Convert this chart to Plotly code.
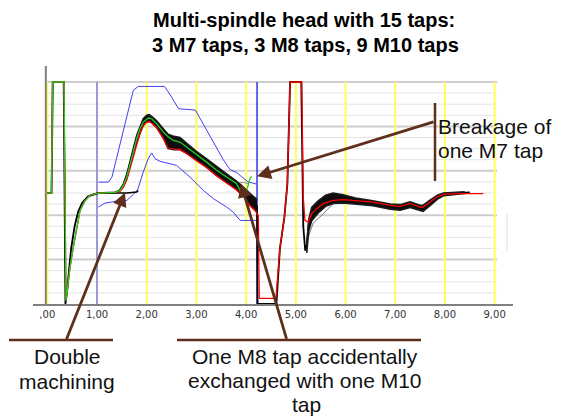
import plotly.graph_objects as go

# ---------------- data ----------------
tick_vals = [0, 1, 2, 3, 4, 5, 6, 7, 8, 9]
tick_text = [",00", "1,00", "2,00", "3,00", "4,00", "5,00", "6,00", "7,00", "8,00", "9,00"]
grid_levels = list(range(1, 21))
major_levels = [4, 8, 12, 16, 20]
yellow_x = [0, 1, 2, 3, 4, 5, 6, 7, 8, 9]
blue_x = [1.0, 4.22]

# green reference signal
green_x = [0.00, 0.085, 0.105, 0.336, 0.376, 0.39, 0.42, 0.457, 0.523, 0.59, 0.658, 0.759, 0.859,
           1.026, 1.195, 1.362, 1.463, 1.529, 1.598, 1.664, 1.730, 1.799, 1.865, 1.932, 2.032, 2.10,
           2.20, 2.334, 2.435, 2.535, 2.67, 2.805, 3.006, 3.207, 3.408, 3.61, 3.81, 3.944, 4.012,
           4.078, 4.113]
green_y = [9.99, 9.99, 20.0, 20.0, 0.3, 0.9, 1.8, 3.3, 5.1, 6.9, 8.4, 9.3, 9.8,
           9.99, 10.03, 10.05, 10.23, 10.68, 11.43, 12.64, 13.68, 14.89, 15.79, 16.39, 16.75, 16.69,
           16.24, 15.49, 15.04, 14.74, 14.59, 14.14, 13.39, 12.78, 12.04, 11.43, 10.84, 9.63, 10.23,
           11.29, 11.5]

# black cycles (middle of the bundle, whole cycle)
black_x = [0.00, 0.085, 0.11, 0.33, 0.365, 0.40, 0.44, 0.48, 0.55, 0.62, 0.70, 0.82, 1.026, 1.195,
           1.362, 1.46, 1.53, 1.60, 1.66, 1.73, 1.80, 1.87, 1.93, 2.00, 2.05, 2.10, 2.20, 2.33, 2.43,
           2.55, 2.67, 2.80, 3.00, 3.20, 3.40, 3.60, 3.80, 3.95, 4.08, 4.18, 4.22, 4.23, 4.61, 4.68,
           4.77, 4.83, 4.885, 5.11, 5.15, 5.19, 5.22, 5.26, 5.32, 5.45, 5.60, 5.75, 5.95, 6.20, 6.55,
           6.90, 7.10, 7.30, 7.50, 7.56, 7.70, 7.85, 7.97, 8.25, 8.50]
black_y = [9.99, 9.99, 20.0, 20.0, 0.0, 1.2, 3.2, 5.0, 7.0, 8.3, 9.1, 9.7, 9.99, 10.03,
           10.05, 10.25, 10.7, 11.5, 12.65, 13.75, 14.9, 15.8, 16.4, 16.7, 16.75, 16.6, 16.2, 15.4, 14.6,
           14.6, 14.55, 14.1, 13.35, 12.75, 12.0, 11.4, 10.75, 10.1, 9.4, 8.9, 8.8, 0.0, 0.0, 5.0,
           7.8, 10.8, 20.0, 20.0, 7.0, 4.8, 5.3, 7.2, 8.2, 8.8, 9.3, 9.55, 9.5, 9.3, 9.1,
           8.8, 8.7, 8.95, 8.65, 8.6, 9.05, 9.6, 9.9, 10.0, 10.05]

# black bundle edges in the descending part
bundle_x = [1.46, 1.53, 1.60, 1.66, 1.73, 1.80, 1.87, 1.93, 2.00, 2.05, 2.10, 2.20, 2.33, 2.43,
            2.55, 2.67, 2.80, 3.00, 3.20, 3.40, 3.60, 3.80, 3.95, 4.08, 4.18, 4.22]
bundle_hi = [10.3, 10.8, 11.7, 12.9, 14.0, 15.2, 16.1, 16.7, 17.0, 17.05, 16.9, 16.5, 15.8, 15.3,
             15.1, 15.0, 14.5, 13.75, 13.1, 12.4, 11.75, 11.1, 10.5, 9.9, 9.5, 9.4]
bundle_lo = [10.2, 10.6, 11.3, 12.4, 13.5, 14.6, 15.5, 16.1, 16.4, 16.45, 16.35, 15.9, 15.0, 14.0,
             13.9, 13.9, 13.6, 12.95, 12.35, 11.6, 11.0, 10.35, 9.7, 8.9, 8.5, 8.4]

# black bundle edges after the second pulse
tail_x = [5.22, 5.26, 5.32, 5.45, 5.60, 5.75, 5.95, 6.20, 6.55, 6.90, 7.10, 7.30, 7.50, 7.56,
          7.70, 7.85, 7.97, 8.25, 8.40]
tail_hi = [5.3, 7.6, 8.7, 9.3, 9.8, 10.0, 9.85, 9.55, 9.3, 9.0, 8.95, 9.2, 8.9, 8.9,
           9.35, 9.8, 10.0, 10.1, 10.1]
tail_lo = [4.6, 6.6, 7.5, 8.2, 8.8, 9.05, 9.1, 9.0, 8.85, 8.55, 8.45, 8.7, 8.4, 8.35,
           8.85, 9.45, 9.75, 9.9, 9.95]

# double machining cycle (stays flat)
double_x = [0.86, 1.026, 1.20, 1.40, 1.60, 1.80, 1.83]
double_y = [9.8, 9.99, 10.0, 9.99, 10.0, 10.08, 10.23]

# grey outlier cycles
grey1_x = [3.55, 3.70, 3.85, 3.95, 4.05]
grey1_y = [11.45, 11.2, 10.9, 10.95, 10.85]
grey2_x = [5.25, 5.35, 5.45, 5.55, 5.65, 5.80]
grey2_y = [6.0, 7.3, 7.7, 8.1, 8.6, 9.2]

# red cycle (M8 tap exchanged)
red_x = [0.00, 0.085, 0.105, 0.336, 0.376, 0.39, 0.42, 0.457, 0.523, 0.59, 0.658, 0.759, 0.859,
         1.026, 1.195, 1.362, 1.463, 1.53, 1.60, 1.67, 1.74, 1.81, 1.87, 1.93, 2.00, 2.05, 2.10,
         2.20, 2.33, 2.43, 2.55, 2.67, 2.80, 3.00, 3.20, 3.40, 3.60, 3.80, 3.95, 4.08, 4.18, 4.245,
         4.265, 4.60, 4.68, 4.77, 4.83, 4.885, 5.119, 5.15, 5.183, 5.25, 5.32, 5.42, 5.553, 5.755,
         5.956, 6.225, 6.56, 6.895, 7.096, 7.297, 7.499, 7.565, 7.70, 7.835, 7.968, 8.237, 8.773]
red_y = [9.99, 9.99, 20.0, 20.0, 0.3, 0.9, 1.8, 3.3, 5.1, 6.9, 8.4, 9.3, 9.8,
         9.99, 10.03, 10.05, 10.15, 10.5, 11.2, 12.3, 13.45, 14.55, 15.45, 16.05, 16.4, 16.43, 16.3,
         15.88, 14.95, 14.05, 13.95, 13.92, 13.55, 12.9, 12.3, 11.55, 10.95, 10.3, 9.65, 8.85, 8.4, 7.98,
         0.5, 0.5, 5.0, 7.8, 10.8, 20.0, 20.0, 9.64, 7.53, 7.38, 8.14, 8.59, 9.04, 9.33,
         9.40, 9.33, 9.18, 8.88, 8.79, 9.04, 8.73, 8.73, 9.18, 9.63, 9.87, 9.94, 9.94]

# blue tolerance envelope
upper_x = [1.03, 1.23, 1.30, 1.43, 1.60, 1.73, 1.83, 2.36, 2.50, 2.64, 2.98, 3.10, 3.31, 3.54,
           3.68, 3.81, 3.90, 4.04, 4.21]
upper_y = [10.98, 10.98, 11.43, 13.84, 16.84, 19.24, 19.6, 19.6, 18.64, 17.59, 17.47, 16.5, 14.8,
           13.0, 12.1, 11.85, 11.5, 11.0, 10.8]
lower_x = [1.03, 1.16, 1.40, 1.60, 1.73, 1.82, 1.93, 2.03, 2.10, 2.17, 2.27, 2.60, 2.87, 3.14,
           3.34, 3.61, 3.74, 3.82, 3.88, 4.20]
lower_y = [8.73, 9.09, 9.27, 9.33, 9.87, 10.32, 11.88, 13.09, 13.61, 13.09, 12.85, 12.49, 11.43,
           10.23, 9.49, 8.73, 8.28, 7.80, 7.53, 7.53]

# ---------------- layout geometry ----------------
W, H = 565, 417
ML, MR, MT, MB = 33, 52, 66, 113
PW, PH = W - ML - MR, H - MT - MB
X_RANGE = [-0.2877, 9.370]
Y_RANGE = [0, 21.44]
BROWN = "#5e2f1c"


def px(xp):
    return (xp - ML) / PW


def py(yp):
    return (H - MB - yp) / PH


fig = go.Figure()

fig.add_trace(go.Scatter(x=upper_x, y=upper_y, mode="lines", line=dict(color="#3f3ff5", width=1)))
fig.add_trace(go.Scatter(x=lower_x, y=lower_y, mode="lines", line=dict(color="#3f3ff5", width=1)))
fig.add_trace(go.Scatter(x=grey1_x, y=grey1_y, mode="lines", line=dict(color="#8a8a8a", width=1)))
fig.add_trace(go.Scatter(x=grey2_x, y=grey2_y, mode="lines", line=dict(color="#7a7a7a", width=1)))
fig.add_trace(go.Scatter(x=black_x, y=black_y, mode="lines", line=dict(color="#000000", width=1.8)))
# black bundles drawn as filled bands between their edges
for xs, hi, lo in ((bundle_x, bundle_hi, bundle_lo), (tail_x, tail_hi, tail_lo)):
    fig.add_trace(go.Scatter(x=xs, y=lo, mode="lines", line=dict(color="#1a1a1a", width=1.6)))
    fig.add_trace(go.Scatter(x=xs, y=hi, mode="lines", fill="tonexty", fillcolor="#0d0d0d",
                             line=dict(color="#1a1a1a", width=1.6)))
fig.add_trace(go.Scatter(x=double_x, y=double_y, mode="lines", line=dict(color="#000000", width=1.5)))
fig.add_trace(go.Scatter(x=red_x, y=red_y, mode="lines", line=dict(color="#ff0000", width=1.3)))
fig.add_trace(go.Scatter(x=green_x, y=green_y, mode="lines", line=dict(color="#22cc22", width=1.3)))

shapes = []
for lv in grid_levels:
    major = lv in major_levels
    shapes.append(dict(type="line", xref="x", yref="y", x0=0, x1=9.05, y0=lv, y1=lv, layer="below",
                       line=dict(color="#cdcdcd" if major else "#e4e4e4", width=2 if major else 1)))
for xv in yellow_x:
    shapes.append(dict(type="line", xref="x", yref="y", x0=xv, x1=xv, y0=0, y1=20, layer="below",
                       line=dict(color="#ffff55", width=2)))
shapes.append(dict(type="line", xref="x", yref="y", x0=blue_x[0], x1=blue_x[0], y0=0, y1=20,
                   layer="below", line=dict(color="#7878ff", width=1.5)))
shapes.append(dict(type="line", xref="x", yref="y", x0=blue_x[1], x1=blue_x[1], y0=0, y1=20,
                   layer="below", line=dict(color="#3434e0", width=1.5)))
# left axis line
shapes.append(dict(type="line", xref="x", yref="paper", x0=-0.03, x1=-0.03, y0=0, y1=1,
                   line=dict(color="#808080", width=2)))
# brown annotation bars
shapes.append(dict(type="line", xref="paper", yref="paper", x0=px(9), x1=px(113), y0=py(340), y1=py(340),
                   line=dict(color=BROWN, width=2.5)))
shapes.append(dict(type="line", xref="paper", yref="paper", x0=px(177), x1=px(421), y0=py(340), y1=py(340),
                   line=dict(color=BROWN, width=2.5)))
shapes.append(dict(type="line", xref="paper", yref="paper", x0=px(435), x1=px(435), y0=py(103), y1=py(181),
                   line=dict(color=BROWN, width=2.5)))
shapes.append(dict(type="line", xref="paper", yref="paper", x0=px(507), x1=px(507), y0=py(214), y1=py(251),
                   line=dict(color="#dddddd", width=1)))

TXT = dict(family="Liberation Sans, Arial, sans-serif", size=21, color="#111111")
TITLE = dict(family="Liberation Sans, Arial, sans-serif", size=20, color="#000000", weight="bold")
ann = [
    dict(text="Multi-spindle head with 15 taps:", x=px(304), y=py(20), font=TITLE),
    dict(text="3 M7 taps, 3 M8 taps, 9 M10 taps", x=px(305), y=py(45), font=TITLE),
    dict(text="Breakage of", x=px(436), y=py(126), font=TXT, xanchor="left"),
    dict(text="one M7 tap", x=px(436), y=py(150), font=TXT, xanchor="left"),
    dict(text="Double", x=px(67), y=py(356), font=TXT),
    dict(text="machining", x=px(67), y=py(381), font=TXT),
    dict(text="One M8 tap accidentally", x=px(305), y=py(356), font=TXT),
    dict(text="exchanged with one M10", x=px(305), y=py(380), font=TXT),
    dict(text="tap", x=px(306), y=py(404), font=TXT),
]
annotations = []
for a in ann:
    d = dict(xref="paper", yref="paper", showarrow=False, xanchor="center", yanchor="middle")
    d.update(a)
    annotations.append(d)

# arrows: tip in data coords, tail as pixel offset
ARW = dict(showarrow=True, arrowhead=2, arrowsize=1, arrowwidth=2.8, arrowcolor=BROWN, text="",
           xref="x", yref="y", standoff=0)
annotations.append(dict(x=4.219, y=11.5, ax=178, ay=-55, **ARW))
annotations.append(dict(x=1.563, y=10.05, ax=-59, ay=148, **ARW))
annotations.append(dict(x=3.897, y=10.86, ax=46, ay=157, **ARW))

fig.update_layout(
    width=W, height=H, margin=dict(l=ML, r=MR, t=MT, b=MB),
    paper_bgcolor="white", plot_bgcolor="white", showlegend=False,
    shapes=shapes, annotations=annotations,
    xaxis=dict(range=X_RANGE, tickmode="array", tickvals=tick_vals, ticktext=tick_text,
               showgrid=False, zeroline=False, showline=True, linecolor="#808080", linewidth=2,
               ticks="", tickfont=dict(family="DejaVu Sans, Verdana, sans-serif", size=10, color="#333333")),
    yaxis=dict(range=Y_RANGE, showgrid=False, zeroline=False, showline=False, showticklabels=False,
               ticks=""),
)

fig.write_html("out.html", config={"displayModeBar": False},
               post_script="document.body.style.margin='0';document.body.style.overflow='hidden';")
